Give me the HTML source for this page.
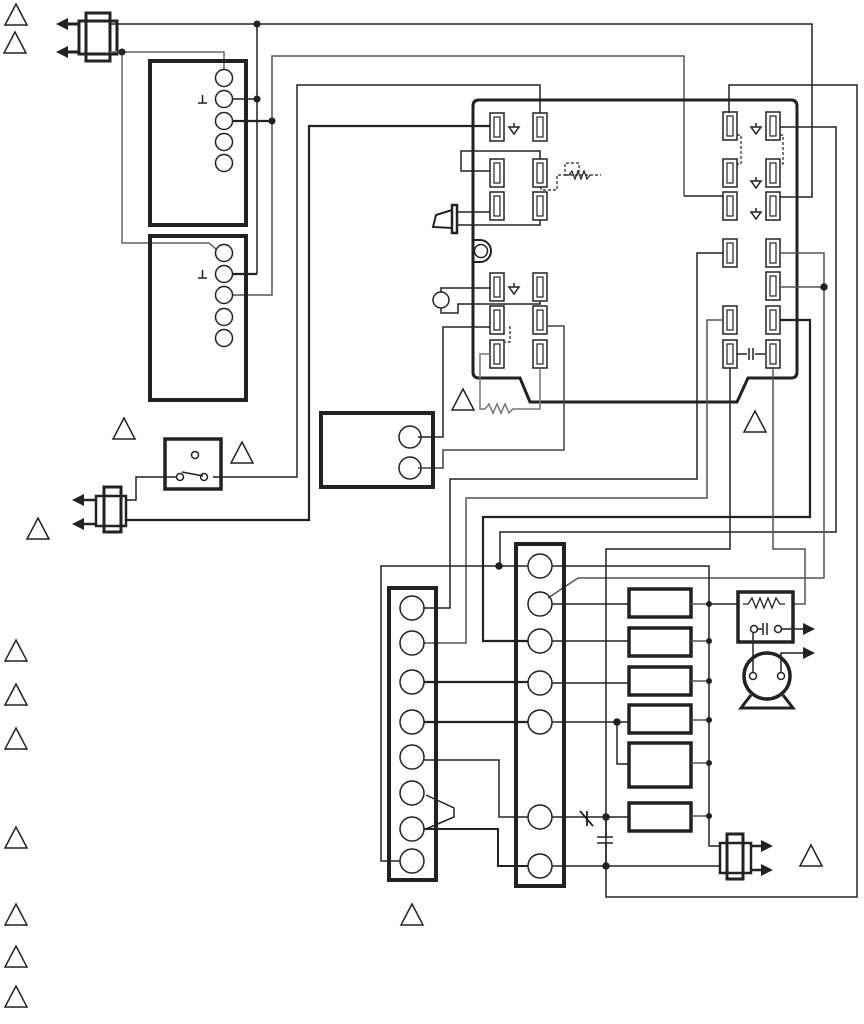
<!DOCTYPE html>
<html><head><style>body{margin:0;background:#fff}svg{display:block}</style></head><body>
<svg width="864" height="1024" viewBox="0 0 864 1024" xmlns="http://www.w3.org/2000/svg" fill="none" stroke="#222" stroke-width="1.5">
<defs>
<g id="tri"><polygon points="11,0 22,21 0,21" stroke-width="1.5"/></g>
<g id="term"><rect x="0" y="0" width="14" height="28" stroke-width="1.5"/><rect x="4" y="4" width="6" height="20" stroke-width="1.2"/></g>
<g id="gnd"><line x1="5" y1="0" x2="5" y2="4"/><polygon points="0,4 10,4 5,11"/></g>
<g id="arrL"><polygon points="0,0 12,-6 12,6" fill="#222" stroke="none"/></g>
<g id="arrR"><polygon points="0,0 -12,-6 -12,6" fill="#222" stroke="none"/></g>
</defs>
<!-- legend triangles -->
<use href="#tri" x="5" y="4"/><use href="#tri" x="4" y="32"/>
<use href="#tri" x="5" y="640"/><use href="#tri" x="5" y="684"/><use href="#tri" x="5" y="728"/>
<use href="#tri" x="5" y="827"/><use href="#tri" x="5" y="904"/><use href="#tri" x="5" y="946"/><use href="#tri" x="5" y="986"/>
<use href="#tri" x="401" y="904"/><use href="#tri" x="800" y="845"/>
<use href="#tri" x="113" y="418"/><use href="#tri" x="231" y="442"/><use href="#tri" x="27" y="518"/>
<use href="#tri" x="452" y="389"/><use href="#tri" x="744" y="411"/>

<!-- top connector -->
<rect x="86" y="13" width="24" height="48" stroke-width="3"/>
<rect x="79" y="21" width="38" height="33" stroke-width="3"/>
<line x1="62" y1="24" x2="79" y2="24" stroke-width="3"/><line x1="62" y1="52" x2="79" y2="52" stroke-width="3"/>
<use href="#arrL" x="56" y="24"/><use href="#arrL" x="56" y="52"/>

<!-- top wires -->
<polyline points="110,24 812,24 812,197 780,197"/>
<polyline points="110,52 224,52 224,69" stroke="#666"/>
<polyline points="122,52 122,243 209,243 216,249" stroke="#666"/>
<line x1="257" y1="24" x2="257" y2="274"/>
<polyline points="233,99 257,99"/><polyline points="233,274 257,274" stroke-width="2.2"/>
<polyline points="684,196 684,56 272,56 272,295 233,295" stroke="#555"/>
<polyline points="233,121 272,121" stroke-width="2.2"/>
<circle cx="257" cy="24" r="2.8" fill="#222"/><circle cx="122" cy="52" r="2.8" fill="#222"/>
<circle cx="257" cy="99" r="2.8" fill="#222"/><circle cx="272" cy="121" r="2.8" fill="#222"/>
<polyline points="540,113 540,85 297,85 297,477 213,477"/>
<polyline points="490,126 309,126 309,520 126,520" stroke-width="2.2"/>
<polyline points="729,113 729,85 857,85 857,897 606,897 606,866"/>

<!-- thermostat boxes -->
<rect x="150" y="61" width="96" height="164" stroke-width="4"/>
<rect x="150" y="236" width="96" height="164" stroke-width="4"/>
<g stroke-width="1.5">
<circle cx="224" cy="78" r="8.5"/><circle cx="224" cy="99" r="8.5"/><circle cx="224" cy="121" r="8.5"/><circle cx="224" cy="142" r="8.5"/><circle cx="224" cy="163" r="8.5"/>
<circle cx="224" cy="253" r="8.5"/><circle cx="224" cy="274" r="8.5"/><circle cx="224" cy="295" r="8.5"/><circle cx="224" cy="317" r="8.5"/><circle cx="224" cy="338" r="8.5"/>
</g>
<path d="M198,103 h9 M202.5,95 v8 M198,278 h9 M202.5,270 v8"/>

<!-- main control -->
<path d="M479,100 H791 Q797,100 797,106 V372 Q797,378 791,378 H748 L737,402 H530 L520,378 H479 Q473,378 473,372 V106 Q473,100 479,100 Z" stroke-width="3"/>
<use href="#term" x="490" y="113"/><use href="#term" x="533" y="113"/>
<use href="#term" x="490" y="159"/><use href="#term" x="533" y="159"/>
<use href="#term" x="490" y="192"/><use href="#term" x="533" y="192"/>
<use href="#term" x="490" y="273"/><use href="#term" x="533" y="273"/>
<use href="#term" x="490" y="306"/><use href="#term" x="533" y="306"/>
<use href="#term" x="490" y="340"/><use href="#term" x="533" y="340"/>
<use href="#term" x="723" y="112"/><use href="#term" x="766" y="112"/>
<use href="#term" x="723" y="159"/><use href="#term" x="766" y="159"/>
<use href="#term" x="723" y="192"/><use href="#term" x="766" y="192"/>
<use href="#term" x="723" y="239"/><use href="#term" x="766" y="239"/>
<use href="#term" x="766" y="272"/>
<use href="#term" x="723" y="306"/><use href="#term" x="766" y="306"/>
<use href="#term" x="723" y="340"/><use href="#term" x="766" y="340"/>
<use href="#gnd" x="509" y="123"/><use href="#gnd" x="509" y="283"/>
<use href="#gnd" x="751" y="123"/><use href="#gnd" x="751" y="177"/><use href="#gnd" x="751" y="208"/>
<!-- internal left wiring -->
<polyline points="490,171 461,171 461,151 540,151 540,159"/>
<g stroke-dasharray="3,2" stroke-width="1.2">
<polyline points="541,187 541,190 557,190 557,175 565,175 565,163 579,163 579,172"/>
<line x1="565" y1="175" x2="601" y2="175"/>
<polyline points="509,327 510,327 510,342 505,342"/>
<polyline points="737,135 741,135 741,164 737,164"/>
<polyline points="780,135 783,135 783,164 780,164"/>
</g>
<polyline points="565,175 569,175 572,171 575,179 578,171 581,179 584,171 587,179 590,175" stroke-width="1.2"/>
<!-- spark igniter -->
<rect x="452" y="205" width="5" height="28" stroke-width="2.5"/>
<polygon points="452,210 436,215 433,227 452,228" stroke-width="2"/>
<line x1="457" y1="212" x2="490" y2="212"/><polyline points="457,225 540,225 540,220"/>
<!-- LED -->
<path d="M473,240 H480 A10,10 0 0 1 480,262 H473" stroke-width="2"/><circle cx="481" cy="251" r="6.5"/>
<!-- flame -->
<circle cx="441" cy="300" r="8"/>
<polyline points="441,292 441,288 490,288"/>
<polyline points="441,308 441,313 458,313 458,304 540,304 540,301"/>
<polyline points="490,327 443,327 443,437 418,437"/>
<polyline points="548,326 564,326 564,450 443,450 443,468 418,468" stroke="#444"/>
<polyline points="490,354 480,354 480,409 485,409 489,404 493,413 497,404 501,413 505,404 509,413 513,409 540,409 540,368" stroke="#777"/>
<!-- right internal -->
<polyline points="780,127 836,127 836,532 500,532 500,566"/>
<polyline points="723,196 684,196"/>
<polyline points="723,253 697,253 697,479 450,479 450,608 424,608"/>
<polyline points="780,253 824,253 824,578 578,578 548,598" stroke="#555"/>
<line x1="780" y1="287" x2="824" y2="287" stroke="#555"/>
<circle cx="824" cy="287" r="3" fill="#222"/>
<polyline points="723,320 707,320 707,498 466,498 466,643 424,643" stroke="#555"/>
<polyline points="780,320 810,320 810,517 483,517 483,641 528,641" stroke-width="2.2"/>
<polyline points="730,368 730,549 606,549 606,866"/>
<polyline points="773,368 773,549 805,549 805,604 793,604" stroke="#555"/>
<path d="M737,354 H747 M749,348 V360 M753,348 V360 M755,354 H765"/>

<!-- switch box -->
<rect x="165" y="439" width="56" height="50" stroke-width="3.5"/>
<circle cx="195" cy="455" r="3.5"/><circle cx="180" cy="477" r="3.5"/><circle cx="204" cy="477" r="3.5"/>
<line x1="182" y1="472" x2="203" y2="476"/>
<polyline points="176,477 136,477 136,500 126,500"/>
<rect x="104" y="487" width="17" height="45" stroke-width="3"/>
<rect x="96" y="496" width="30" height="30" stroke-width="2.5"/>
<line x1="84" y1="500" x2="96" y2="500" stroke-width="2.5"/><line x1="84" y1="524" x2="96" y2="524" stroke-width="2.5"/>
<use href="#arrL" x="72" y="500"/><use href="#arrL" x="72" y="524"/>
<!-- box with 2 circles -->
<rect x="321" y="413" width="112" height="74" stroke-width="4"/>
<circle cx="410" cy="437" r="11"/><circle cx="410" cy="468" r="11"/>

<!-- left strip -->
<rect x="389" y="588" width="47" height="292" stroke-width="4"/>
<g><circle cx="412" cy="608" r="12"/><circle cx="412" cy="643" r="12"/><circle cx="412" cy="682" r="12"/><circle cx="412" cy="722" r="12"/><circle cx="412" cy="757" r="12"/><circle cx="412" cy="793" r="12"/><circle cx="412" cy="829" r="12"/><circle cx="412" cy="861" r="12"/></g>
<!-- middle strip -->
<rect x="516" y="544" width="48" height="342" stroke-width="4"/>
<g><circle cx="540" cy="566" r="12"/><circle cx="540" cy="604" r="12"/><circle cx="540" cy="641" r="12"/><circle cx="540" cy="683" r="12"/><circle cx="540" cy="722" r="12"/><circle cx="540" cy="817" r="12"/><circle cx="540" cy="866" r="12"/></g>
<line x1="424" y1="682" x2="528" y2="682" stroke-width="2.2"/>
<line x1="424" y1="722" x2="528" y2="722" stroke-width="2.2"/>
<polyline points="424,760 499,760 499,817 528,817"/>
<polyline points="424,829 498,829 498,866 528,866" stroke-width="2"/>
<polyline points="426,795 454,808 454,817 426,829"/>
<polyline points="400,861 381,861 381,566 528,566"/>
<circle cx="499" cy="566" r="3" fill="#222"/>
<!-- relays -->
<g stroke-width="3.5">
<rect x="629" y="589" width="62" height="28"/><rect x="629" y="628" width="62" height="28"/>
<rect x="629" y="667" width="62" height="28"/><rect x="629" y="705" width="62" height="28"/>
<rect x="629" y="743" width="62" height="44"/><rect x="629" y="803" width="62" height="28"/>
</g>
<polyline points="552,566 709,566 709,846 720,846"/>
<line x1="552" y1="604" x2="629" y2="604"/><line x1="552" y1="641" x2="629" y2="641"/>
<line x1="552" y1="683" x2="629" y2="683"/><line x1="552" y1="722" x2="629" y2="722"/>
<polyline points="617,722 617,764 629,764"/>
<circle cx="617" cy="722" r="3" fill="#222"/>
<line x1="552" y1="817" x2="629" y2="817"/>
<path d="M580,811 L593,826 M587,811 V826" stroke-width="1.8"/>
<path d="M597,837 H613 M597,843 H613"/>
<line x1="606" y1="817" x2="606" y2="837"/><line x1="606" y1="843" x2="606" y2="866"/>
<line x1="552" y1="866" x2="720" y2="866"/>
<circle cx="606" cy="817" r="3" fill="#222"/><circle cx="606" cy="866" r="3" fill="#222"/>
<g stroke="#555"><line x1="691" y1="604" x2="709" y2="604"/><line x1="691" y1="641" x2="709" y2="641"/><line x1="691" y1="681" x2="709" y2="681"/><line x1="691" y1="720" x2="709" y2="720"/><line x1="691" y1="763" x2="709" y2="763"/><line x1="691" y1="816" x2="709" y2="816"/></g>
<g fill="#222" stroke="none"><circle cx="709" cy="604" r="3"/><circle cx="709" cy="641" r="3"/><circle cx="709" cy="681" r="3"/><circle cx="709" cy="720" r="3"/><circle cx="709" cy="763" r="3"/><circle cx="709" cy="816" r="3"/></g>
<!-- heater box & motor -->
<line x1="709" y1="604" x2="737" y2="604"/>
<rect x="738" y="592" width="55" height="50" stroke-width="3.5"/>
<polyline points="743,604 748,604 752,598 756,608 760,598 764,608 768,598 772,608 776,598 780,604 785,604" stroke-width="1.3"/>
<circle cx="754" cy="629" r="3.5"/><circle cx="778" cy="629" r="3.5"/>
<path d="M758,629 H762 M763,623 V635 M767,623 V635 M782,629 H805" />
<use href="#arrR" x="815" y="629"/>
<circle cx="767" cy="676" r="23" stroke-width="3.5"/>
<path d="M751,695 L741,708 H793 L783,695" stroke-width="3"/>
<circle cx="753" cy="676" r="3.5"/><circle cx="781" cy="676" r="3.5"/>
<line x1="753" y1="632" x2="753" y2="672"/>
<polyline points="781,672 781,653 805,653"/>
<use href="#arrR" x="815" y="653"/>
<!-- bottom connector -->
<rect x="727" y="834" width="16" height="45" stroke-width="3"/>
<rect x="720" y="843" width="31" height="30" stroke-width="2.5"/>
<line x1="751" y1="846" x2="762" y2="846" stroke-width="2.5"/><line x1="751" y1="870" x2="762" y2="870" stroke-width="2.5"/>
<use href="#arrR" x="773" y="846"/><use href="#arrR" x="773" y="870"/>
</svg>
</body></html>
